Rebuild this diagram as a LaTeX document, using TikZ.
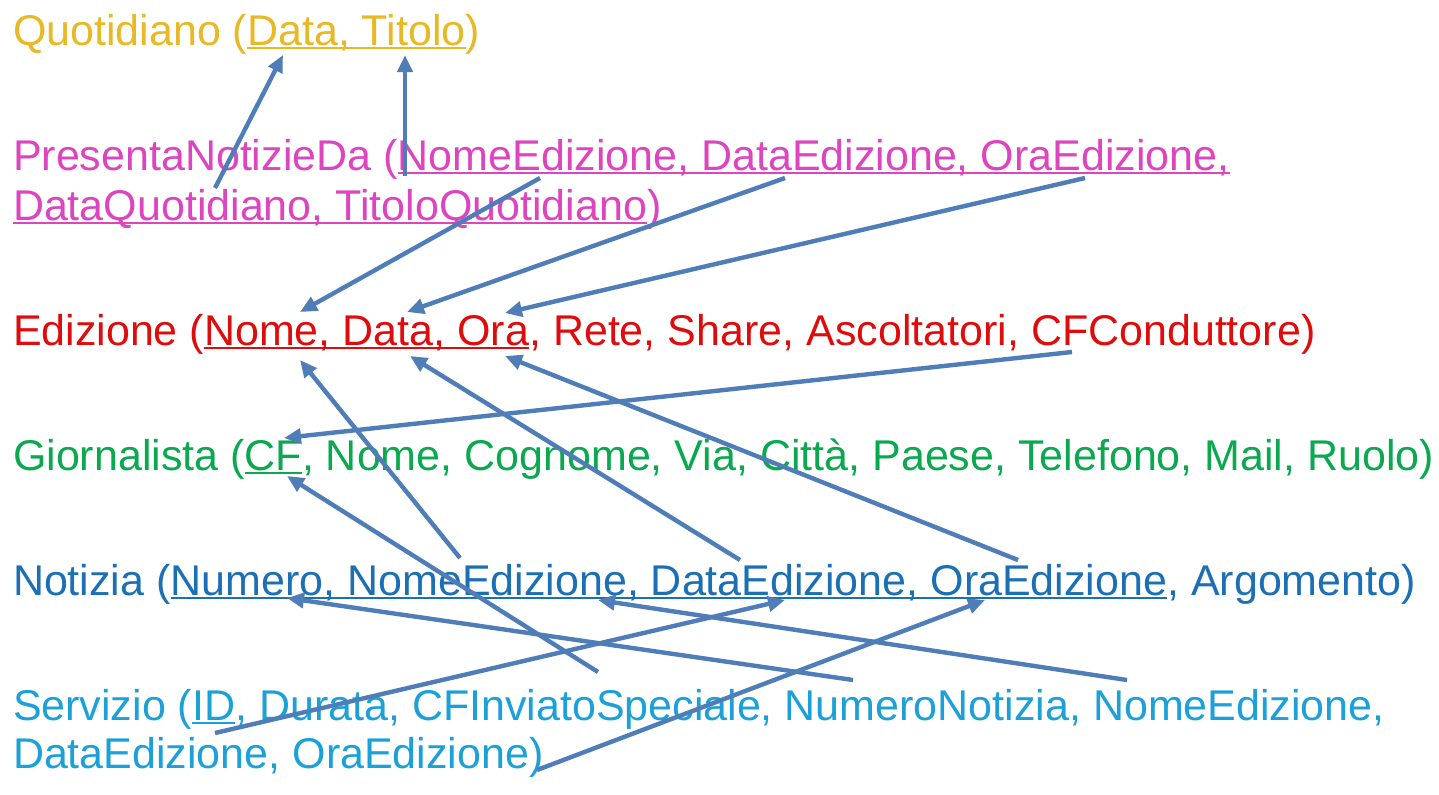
\documentclass[tikz,border=0pt]{standalone}
\usepackage{fontspec}
\setmainfont{Liberation Sans}
\usetikzlibrary{arrows.meta}
\definecolor{cgold}{HTML}{E9B825}
\definecolor{cmag}{HTML}{DD45C0}
\definecolor{cred}{HTML}{DE0C0C}
\definecolor{cgreen}{HTML}{0AA84F}
\definecolor{cblue}{HTML}{1A6FB5}
\definecolor{ccyan}{HTML}{1BA1D8}
\definecolor{arrowblue}{HTML}{4F7DB8}
\newcommand\myul[1]{\setbox0=\hbox{#1}\rlap{\rule[-2.2pt]{\wd0}{1.05pt}}\box0}
\tikzset{
  rel/.style={anchor=base west, inner sep=0pt, outer sep=0pt, font=\fontsize{21.5pt}{25pt}\selectfont},
  conn/.style={draw=arrowblue, line width=2.2pt, -{Triangle[length=8.5pt,width=7.5pt]}},
  shadowline/.style={draw=black!18, line width=2.2pt}
}
\begin{document}
\begin{tikzpicture}[x=0.5pt,y=-0.5pt]
\useasboundingbox (0,0) rectangle (1439,794);
\fill[white] (0,0) rectangle (1439,794);
% relations
\node[rel, text=cgold] (quot) at (13,45) {Quotidiano (\myul{Data, Titolo})};
\node[rel, text=cmag] (presA) at (13,170) {PresentaNotizieDa (\myul{NomeEdizione, DataEdizione, OraEdizione,}};
\node[rel, text=cmag] (presB) at (13,220) {\myul{DataQuotidiano, TitoloQuotidiano})};
\node[rel, text=cred] (ediz) at (13,345) {Edizione (\myul{Nome, Data, Ora}, Rete, Share, Ascoltatori, CFConduttore)};
\node[rel, text=cgreen] (giorn) at (13,470) {Giornalista (\myul{CF}, Nome, Cognome, Via, Città, Paese, Telefono, Mail, Ruolo)};
\node[rel, text=cblue] (notiz) at (13,595) {Notizia (\myul{Numero, NomeEdizione, DataEdizione, OraEdizione}, Argomento)};
\node[rel, text=ccyan] (servA) at (13,720) {Servizio (\myul{ID}, Durata, CFInviatoSpeciale, NumeroNotizia, NomeEdizione,};
\node[rel, text=ccyan] (servB) at (13,768) {DataEdizione, OraEdizione)};
% attribute points
\coordinate (qData) at (283,55);
\coordinate (qTitolo) at (405,55);
\coordinate (pDataQ) at (215,188);
\coordinate (pTitoloQ) at (405,176);
\coordinate (pNome) at (540,178);
\coordinate (pData) at (785,178);
\coordinate (pOra) at (1085,178);
\coordinate (eNomeT) at (300,312);
\coordinate (eDataT) at (407,312);
\coordinate (eOraT) at (505,313);
\coordinate (eCF) at (1072,352);
\coordinate (eNomeB) at (300,360);
\coordinate (eDataB) at (410,356);
\coordinate (eOraB) at (505,356);
\coordinate (gCFT) at (284,438);
\coordinate (gCFB) at (287,476);
\coordinate (nNome) at (460,558);
\coordinate (nData) at (740,560);
\coordinate (nOra) at (1018,560);
\coordinate (nNumB) at (287,598);
\coordinate (nNomeB) at (598,600);
\coordinate (nDataB) at (785,600);
\coordinate (nOraB) at (985,600);
\coordinate (sCF) at (598,672);
\coordinate (sNum) at (853,680);
\coordinate (sNome) at (1127,680);
\coordinate (sData) at (215,733);
\coordinate (sOra) at (537,770);
% foreign keys
\draw[conn] (pDataQ) -- (qData);
\draw[conn] (pTitoloQ) -- (qTitolo);
\draw[conn] (pNome) -- (eNomeT);
\draw[conn] (pData) -- (eDataT);
\draw[conn] (pOra) -- (eOraT);
\draw[conn] (eCF) -- (gCFT);
\draw[conn] (nNome) -- (eNomeB);
\draw[conn] (nData) -- (eDataB);
\draw[conn] (nOra) -- (eOraB);
\draw[conn] (sCF) -- (gCFB);
\draw[conn] (sNum) -- (nNumB);
\draw[conn] (sNome) -- (nNomeB);
\draw[conn] (sData) -- (nDataB);
\draw[conn] (sOra) -- (nOraB);
\end{tikzpicture}
\end{document}
